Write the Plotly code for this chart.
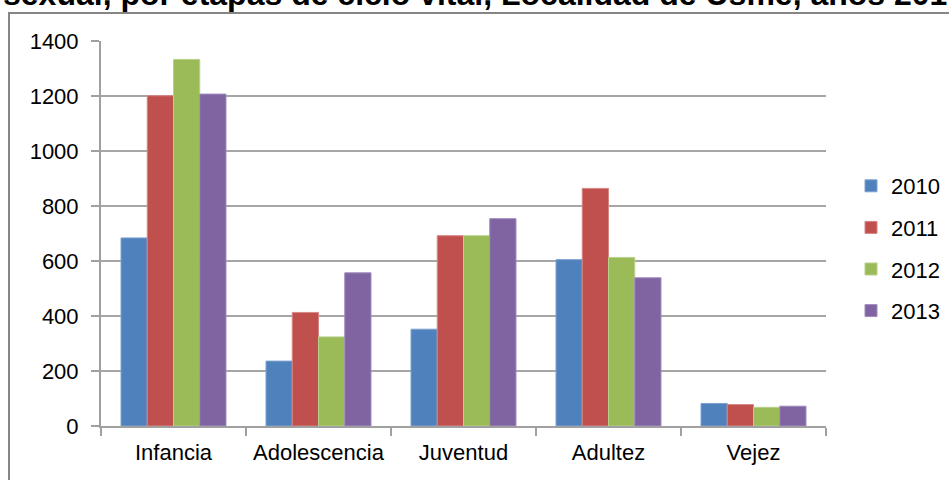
import plotly.graph_objects as go

# Etapas de ciclo vital y casos por año
etapas = ["Infancia", "Adolescencia", "Juventud", "Adultez", "Vejez"]
anios = ["2010", "2011", "2012", "2013"]
casos_2010 = [684, 236, 352, 605, 82]
casos_2011 = [1201, 413, 692, 864, 78]
casos_2012 = [1333, 324, 692, 613, 68]
casos_2013 = [1207, 557, 754, 539, 72]
y_ticks = [0, 200, 400, 600, 800, 1000, 1200, 1400]

series = [casos_2010, casos_2011, casos_2012, casos_2013]
colores = ["#4F81BD", "#C0504D", "#9BBB59", "#8064A2"]
bordes = ["#7FA3D1", "#D78583", "#B8D08A", "#A08BBE"]

FONT = "Liberation Sans, Arial, sans-serif"

fig = go.Figure()
for anio, valores, color, borde in zip(anios, series, colores, bordes):
    fig.add_trace(go.Bar(
        x=etapas, y=valores, name=anio, legendgroup=anio,
        marker=dict(color=color, line=dict(color=borde, width=1)),
    ))

W, H = 949, 480
L, R, T, B = 101, 123, 41, 54
pw, ph = W - L - R, H - T - B

fig.update_layout(
    width=W, height=H,
    margin=dict(l=L, r=R, t=T, b=B, autoexpand=False),
    paper_bgcolor="white", plot_bgcolor="white",
    barmode="group", bargap=0.276, bargroupgap=0,
    font=dict(family=FONT, size=22, color="#000000"),
    showlegend=True,
    legend=dict(
        x=(851 - L) / pw, xanchor="left",
        y=1 - (165 - T) / ph, yanchor="top",
        font=dict(family=FONT, size=22, color="#000000"),
        traceorder="grouped", tracegroupgap=10,
        bgcolor="rgba(0,0,0,0)",
    ),
    xaxis=dict(
        showline=True, linecolor="#A0A0A0", linewidth=2,
        ticks="outside", tickson="boundaries", ticklen=8,
        tickcolor="#A0A0A0", tickwidth=2,
        showgrid=False, ticklabelstandoff=6,
        tickfont=dict(family=FONT, size=22, color="#000000"),
    ),
    yaxis=dict(
        range=[0, 1400], tickvals=y_ticks,
        showline=True, linecolor="#A0A0A0", linewidth=2,
        ticks="outside", ticklen=8, tickcolor="#A0A0A0", tickwidth=2,
        showgrid=True, gridcolor="#A6A6A6", gridwidth=2,
        zeroline=False, ticklabelstandoff=8,
        tickfont=dict(family=FONT, size=22, color="#000000"),
    ),
    shapes=[dict(
        type="rect", xref="paper", yref="paper",
        x0=(9 - L) / pw, x1=(W + 20 - L) / pw,
        y0=-(B + 20) / ph, y1=1 + (T - 13) / ph,
        line=dict(color="#868686", width=2), fillcolor="rgba(0,0,0,0)",
        layer="below",
    )],
    annotations=[dict(
        text="<b>sexual, por etapas de ciclo vital, Localidad de Usme, años 2010-2013</b>",
        xref="paper", yref="paper",
        x=(1 - L) / pw, xanchor="left",
        y=1 + (T - 14) / ph, yanchor="bottom",
        showarrow=False,
        font=dict(family=FONT, size=32, color="#000000"),
    )],
)

fig.write_html("out.html")
